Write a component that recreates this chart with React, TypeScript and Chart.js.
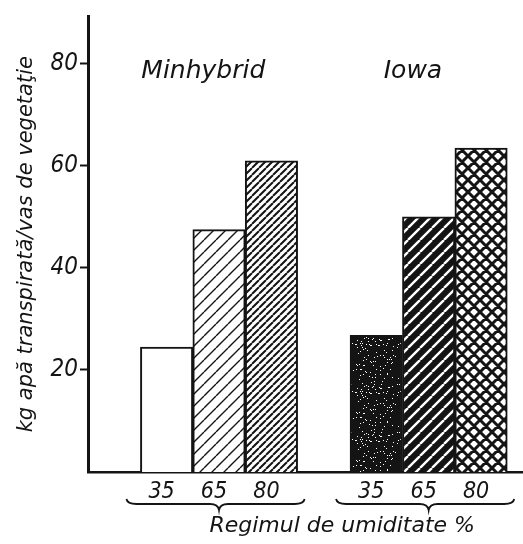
import React, { useEffect, useRef } from "react";
import { Chart, registerables } from "chart.js";

Chart.register(...registerables);

const varieties = ["Minhybrid", "Iowa"];
const regimes = ["35", "65", "80"];
const minhybridValues = [24.5, 47.5, 61];
const iowaValues = [26.8, 50, 63.5];
const yTickValues = [20, 40, 60, 80];
const yTitle = "kg apă transpirată/vas de vegetaţie";
const xTitle = "Regimul de umiditate %";

const INK = "#141414";
const FONT = "DejaVu Sans";
const FONT_C = "DejaVu Sans Condensed";

function makeHatch(size: number, lw: number, fg: string, bg: string, cross = false) {
  const c = document.createElement("canvas");
  c.width = size;
  c.height = size;
  const g = c.getContext("2d")!;
  g.fillStyle = bg;
  g.fillRect(0, 0, size, size);
  g.strokeStyle = fg;
  g.lineWidth = lw;
  g.beginPath();
  for (const k of [-1, 0, 1]) {
    g.moveTo(k * size, size);
    g.lineTo(k * size + size, 0);
  }
  if (cross) {
    for (const k of [-1, 0, 1]) {
      g.moveTo(k * size, 0);
      g.lineTo(k * size + size, size);
    }
  }
  g.stroke();
  return g.createPattern(c, "repeat")!;
}

function makeSpeckle(size: number) {
  const c = document.createElement("canvas");
  c.width = size;
  c.height = size;
  const g = c.getContext("2d")!;
  g.fillStyle = INK;
  g.fillRect(0, 0, size, size);
  g.fillStyle = "#ffffff";
  for (let i = 0; i < 110; i++) {
    const a = Math.abs(Math.sin(i * 12.9898) * 43758.5453) % 1;
    const b = Math.abs(Math.sin(i * 78.233 + 1.7) * 24634.6345) % 1;
    g.fillRect(Math.floor(a * size), Math.floor(b * size), 1, 1);
  }
  return g.createPattern(c, "repeat")!;
}

export default function App() {
  const ref = useRef<HTMLCanvasElement | null>(null);

  useEffect(() => {
    const canvas = ref.current;
    if (!canvas) return;

    const groupSize = regimes.length + 1;
    const posFor = (g: number, i: number) => 1.5 + g * groupSize + i;
    const allValues = [minhybridValues, iowaValues];
    const tickPositions: number[] = [];
    allValues.forEach((vals, g) => vals.forEach((_, i) => tickPositions.push(posFor(g, i))));

    const fills = [
      ["#ffffff", makeHatch(12, 1.4, INK, "#ffffff"), makeHatch(7, 2, INK, "#ffffff")],
      [makeSpeckle(48), makeHatch(12, 2.4, "#ffffff", INK), makeHatch(12, 3, INK, "#ffffff", true)],
    ];

    const annotate = {
      id: "annotate",
      afterDraw(chart: any) {
        const ctx = chart.ctx as CanvasRenderingContext2D;
        const xs = chart.scales.x;
        ctx.save();
        ctx.fillStyle = INK;
        ctx.strokeStyle = INK;
        // group labels
        ctx.font = `italic 25px "${FONT}"`;
        ctx.textAlign = "center";
        ctx.textBaseline = "alphabetic";
        varieties.forEach((name, g) => {
          const cx = xs.getPixelForValue(posFor(g, 1) - 0.3);
          ctx.fillText(name, cx, 78);
        });
        // braces
        ctx.lineWidth = 1.8;
        const y0 = 504;
        varieties.forEach((_, g) => {
          const x0 = xs.getPixelForValue(posFor(g, 0) - 0.5) - 14;
          const x1 = xs.getPixelForValue(posFor(g, regimes.length - 1) + 0.5) + 7;
          const xm = xs.getPixelForValue(posFor(g, 1));
          ctx.beginPath();
          ctx.moveTo(x0, y0 - 5);
          ctx.quadraticCurveTo(x0 + 1, y0, x0 + 10, y0);
          ctx.lineTo(xm - 9, y0);
          ctx.quadraticCurveTo(xm - 1, y0, xm, y0 + 6);
          ctx.quadraticCurveTo(xm + 1, y0, xm + 9, y0);
          ctx.lineTo(x1 - 10, y0);
          ctx.quadraticCurveTo(x1 - 1, y0, x1, y0 - 5);
          ctx.stroke();
        });
        // x title
        ctx.font = `italic 22px "${FONT}"`;
        ctx.fillText(xTitle, xs.getPixelForValue(4.85), 532);
        ctx.restore();
      },
    };

    const chart = new Chart(canvas, {
      type: "bar",
      data: {
        datasets: allValues.map((vals, g) => ({
          label: varieties[g],
          data: vals.map((v, i) => ({ x: posFor(g, i), y: v })),
          backgroundColor: fills[g],
          borderColor: INK,
          borderWidth: 2,
          grouped: false,
          barPercentage: 1,
          categoryPercentage: 1,
        })),
      },
      options: {
        animation: false,
        responsive: false,
        devicePixelRatio: 1,
        layout: { padding: { top: 12, left: 0, right: 0, bottom: 0 } },
        plugins: { legend: { display: false }, tooltip: { enabled: false } },
        scales: {
          x: {
            type: "linear",
            min: 0,
            max: 8.3,
            offset: false,
            z: 1,
            grid: { display: false, drawTicks: false, offset: false },
            border: { display: true, color: INK, width: 2.5 },
            afterBuildTicks: (s: any) => {
              s.ticks = tickPositions.map((v) => ({ value: v }));
            },
            ticks: {
              autoSkip: false,
              maxRotation: 0,
              padding: 6,
              labelOffset: -5,
              color: INK,
              font: { family: FONT_C, size: 23, style: "italic" },
              callback: (_v: any, idx: number) => regimes[idx % regimes.length],
            },
            afterFit: (s: any) => {
              s.height = 72;
            },
          },
          y: {
            type: "linear",
            min: 0,
            max: 89.3,
            grid: { display: true, drawOnChartArea: false, drawTicks: true, tickLength: 8, tickWidth: 2, color: INK },
            border: { display: true, color: INK, width: 3 },
            afterBuildTicks: (s: any) => {
              s.ticks = yTickValues.map((v) => ({ value: v }));
            },
            ticks: {
              padding: 2,
              color: INK,
              font: { family: FONT_C, size: 24, style: "italic" },
            },
            title: {
              display: true,
              text: yTitle,
              color: INK,
              font: { family: FONT, size: 21, style: "italic" },
              padding: { top: 14, bottom: 0 },
            },
            afterFit: (s: any) => {
              s.width = 88;
            },
          },
        },
      },
      plugins: [annotate],
    } as any);

    return () => chart.destroy();
  }, []);

  return (
    <div style={{ position: "fixed", left: 0, top: 0, width: 523, height: 544, background: "#ffffff" }}>
      <canvas ref={ref} width={523} height={544} style={{ display: "block" }} />
    </div>
  );
}
